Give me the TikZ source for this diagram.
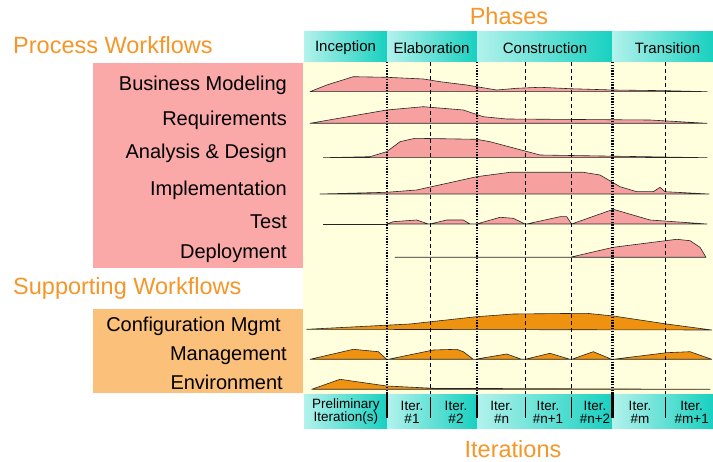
\documentclass[tikz,border=0pt]{standalone}
\usepackage{fontspec}
\setmainfont{Liberation Sans}
\usepackage{xcolor}
\definecolor{titleorange}{RGB}{245,150,40}
\definecolor{pinkbox}{RGB}{250,168,168}
\definecolor{orangebox}{RGB}{251,192,122}
\definecolor{humppink}{RGB}{246,160,160}
\definecolor{humporange}{RGB}{238,146,16}
\definecolor{chartyellow}{RGB}{255,255,222}
\definecolor{teallight}{RGB}{178,242,236}
\definecolor{tealdark}{RGB}{24,208,192}

\begin{document}
\begin{tikzpicture}[x=1pt,y=-1pt,
	title/.style={text=titleorange,font=\fontsize{23.5}{26}\selectfont,inner sep=0pt},
	flow/.style={anchor=east,font=\fontsize{20}{22}\selectfont,inner sep=0pt},
	phase/.style={font=\fontsize{15}{17}\selectfont,inner sep=0pt},
	iter/.style={font=\fontsize{13.5}{13}\selectfont,align=center,inner sep=0pt},
	pinkhump/.style={fill=humppink,draw=black!85,line width=0.6pt,line join=round},
	orangehump/.style={fill=humporange,draw=black!85,line width=0.6pt,line join=round},
	milestone/.style={line width=2.2pt,dash pattern=on 1.4pt off 1.4pt},
	iterline/.style={line width=0.8pt,dash pattern=on 4pt off 3pt},
	tealband/.style={left color=teallight,right color=tealdark}]
	\useasboundingbox (0,0) rectangle (713,462);
	\fill[white] (0,0) rectangle (713,462);
	% BACKGROUNDS
	\fill[chartyellow] (303,62) rectangle (713,395);
	\fill[pinkbox] (93,63) rectangle (303,268);
	\fill[orangebox] (93,309) rectangle (303,393);
	% PHASES
	\node[title] (phases) at (509,16) {Phases};
	\shade[tealband] (304,32) rectangle (387,62);
	\shade[tealband] (387,32) rectangle (477,62);
	\shade[tealband] (477,32) rectangle (612,62);
	\shade[tealband] (612,32) rectangle (713,62);
	\node[phase] (inception) at (345.5,48) {Inception};
	\node[phase] (elaboration) at (431.5,48) {Elaboration};
	\node[phase] (construction) at (545,48) {Construction};
	\node[phase] (transition) at (667.5,48) {Transition};
	% WORKFLOW NAMES
	\node[title,anchor=west] (process) at (13,45) {Process Workflows};
	\node[flow] (busmod) at (287,85) {Business Modeling};
	\node[flow] (req) at (287,120) {Requirements};
	\node[flow] (anadesign) at (287,153) {Analysis \& Design};
	\node[flow] (impl) at (287,190.5) {Implementation};
	\node[flow] (test) at (287,221.5) {Test};
	\node[flow] (deploy) at (287,253) {Deployment};
	\node[title,anchor=west] (supporting) at (13,288.5) {Supporting Workflows};
	\node[flow] (config) at (281,326) {Configuration Mgmt};
	\node[flow] (mgmt) at (287,356) {Management};
	\node[flow] (env) at (283,382) {Environment};
	% PROCESS HUMPS
	\filldraw[pinkhump] (310,91.7) -- (326.7,85) -- (353.3,76.7) -- (386.7,77.3) -- (423.3,79) -- (440,81.7) -- (466.7,85) -- (476.7,86.7) -- (496.7,90) -- (516.7,88.3) -- (540,87.3) -- (570,88.7) -- (613.3,90) -- (666.7,90.7) -- (707.3,91.7) -- cycle;
	\filldraw[pinkhump] (310,123.3) -- (386.7,110) -- (423.3,106.7) -- (463.3,110) -- (483.3,116.7) -- (506.7,119) -- (650,120) -- (707,123.3) -- cycle;
	\filldraw[pinkhump] (323.3,157.7) -- (370,156.7) -- (386.7,151.7) -- (400,141.7) -- (415,138.3) -- (476.7,139.3) -- (490,141.7) -- (540,155) -- (707,157.7) -- cycle;
	\filldraw[pinkhump] (320,194) -- (386.7,192.3) -- (416.7,190) -- (476.7,176.7) -- (510,172.3) -- (583.3,172.3) -- (600,175) -- (620,186.7) -- (636.7,191.7) -- (653.3,191.7) -- (660,187.3) -- (665,191.7) -- (709,194) -- cycle;
	\draw[black!85,line width=0.6pt] (323.3,224) -- (386.7,224);
	\filldraw[pinkhump] (386.7,224) -- (393.3,221.7) -- (416.7,220) -- (428.3,224) -- (430,224) -- (446.7,220) -- (463.3,220) -- (470,224) -- (476.7,224) -- (500,217.3) -- (513.3,218.3) -- (525,224) -- (526.7,224) -- (560,216.7) -- (566.7,216.7) -- (571.7,224) -- (613.3,209.3) -- (650,220) -- (707,224) -- cycle;
	\filldraw[pinkhump] (395,257.3) -- (570,257.3) -- (613.3,247.3) -- (676.7,239.3) -- (690,240.7) -- (700,247.3) -- (706,257.3) -- cycle;
	% SUPPORTING HUMPS
	\filldraw[orangehump] (306.7,329.3) -- (410,324) -- (476.7,316.7) -- (513.3,314) -- (586.7,313.3) -- (613.3,316) -- (666.7,324) -- (711.7,330) -- cycle;
	\filldraw[orangehump] (310,359.3) -- (353.3,349.3) -- (378.3,351.7) -- (386.7,359.3) -- (388.3,359.3) -- (433.3,350) -- (456.7,349.3) -- (463.3,351.7) -- (473.3,359.3) -- (475,359.3) -- (506.7,354) -- (521.7,359.3) -- (525,359.3) -- (550,353.3) -- (570,359.3) -- (571.7,359.3) -- (593.3,351.7) -- (611.7,359.3) -- (613.3,359.3) -- (666.7,352.7) -- (690,351.7) -- (711.7,359.3) -- cycle;
	\filldraw[orangehump] (311.7,389.3) -- (340,379.3) -- (386.7,386) -- (433.3,388.3) -- (710,389.3) -- cycle;
	% MILESTONES AND ITERATION LINES
	\draw[milestone] (387,62) -- (387,395);
	\draw[milestone] (477,62) -- (477,395);
	\draw[milestone] (612.5,62) -- (612.5,395);
	\draw[iterline] (430.5,62) -- (430.5,395);
	\draw[iterline] (525,62) -- (525,395);
	\draw[iterline] (571,62) -- (571,395);
	\draw[iterline] (665.5,62) -- (665.5,395);
	% ITERATIONS
	\shade[tealband] (304,395) rectangle (387,429);
	\shade[tealband] (387,395) rectangle (477,429);
	\shade[tealband] (477,395) rectangle (612.5,429);
	\shade[tealband] (612.5,395) rectangle (713,429);
	\draw[line width=2.8pt] (387,393) -- (387,418);
	\draw[line width=2.8pt] (477,395) -- (477,418);
	\draw[line width=2.8pt] (612.5,393) -- (612.5,418);
	\draw[line width=0.6pt] (430.5,397) -- (430.5,418);
	\draw[line width=0.6pt] (525,397) -- (525,418);
	\draw[line width=0.6pt] (571,397) -- (571,418);
	\draw[line width=0.6pt] (665.5,397) -- (665.5,418);
	\node[iter] (prelim) at (345.8,412) {Preliminary\\Iteration(s)};
	\node[iter] (it1) at (412,412) {Iter.\\\#1};
	\node[iter] (it2) at (456,412) {Iter.\\\#2};
	\node[iter] (itn) at (501.7,412) {Iter.\\\#n};
	\node[iter] (itn1) at (548,412) {Iter.\\\#n+1};
	\node[iter] (itn2) at (595,412) {Iter.\\\#n+2};
	\node[iter] (itm) at (640,412) {Iter.\\\#m};
	\node[iter] (itm1) at (691.7,412) {Iter.\\\#m+1};
	\node[title,anchor=base] (iterations) at (513,457.5) {Iterations};
\end{tikzpicture}
\end{document}
